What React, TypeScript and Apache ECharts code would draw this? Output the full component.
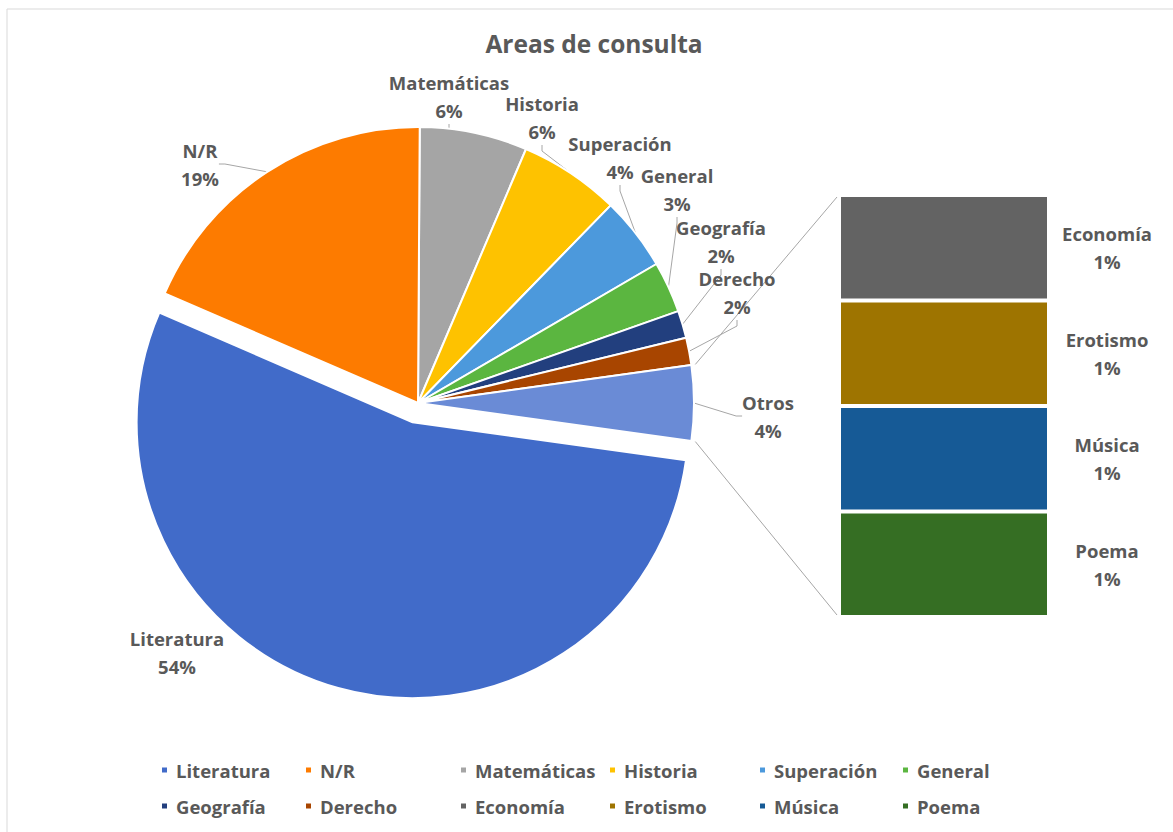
import React, { useEffect, useRef } from "react";
import * as echarts from "echarts";

// ---- data ----
const titleText = "Areas de consulta";
const categories = ["Literatura", "N/R", "Matemáticas", "Historia", "Superación", "General", "Geografía", "Derecho"];
const values = [54.3, 18.6, 6.3, 5.9, 4.3, 3.0, 1.6, 1.6];
const categoryColors = ["#416bc9", "#fd7b00", "#a5a5a5", "#fec200", "#4c99dc", "#5bb640", "#223f7e", "#a84500"];
const otherLabel = "Otros";
const otherColor = "#6a8bd6";
const otherNames = ["Economía", "Erotismo", "Música", "Poema"];
const otherValues = [1.1, 1.1, 1.1, 1.1];
const otherColors = ["#636363", "#9e7400", "#165a96", "#356e23"];
// clockwise order of slices starting at 12 o'clock
const sliceOrder = ["Matemáticas", "Historia", "Superación", "General", "Geografía", "Derecho", "Otros", "Literatura", "N/R"];
const explodedSlice = "Literatura";
const legendRows = [
  ["Literatura", "N/R", "Matemáticas", "Historia", "Superación", "General"],
  ["Geografía", "Derecho", "Economía", "Erotismo", "Música", "Poema"],
];

// ---- layout ----
const W = 1173;
const H = 832;
const FONT = "'Open Sans', Lato, sans-serif";
const TEXT = "#595959";
const FS = 18.5;
const PIE_C = [418, 403];
const PIE_R = 276;
const EXPLODE = 20;
const GRID = { left: 839, top: 195, width: 210, height: 422 };
const LEGEND_X = [160, 304, 459, 608, 758, 901];
const LEGEND_Y = [759, 795];
// label block centres, relative to the pie centre (Excel-style placement)
const LABEL_OFFSET: Record<string, number[]> = {
  Literatura: [-241, 249],
  "N/R": [-218, -239],
  Matemáticas: [31, -307],
  Historia: [124, -286],
  Superación: [202, -246],
  General: [259, -214],
  Geografía: [303, -162],
  Derecho: [319, -111],
  Otros: [350, 13],
};
const NO_LINE = ["Literatura"];

export default function App() {
  const ref = useRef<HTMLDivElement>(null);
  useEffect(() => {
    if (!ref.current) return;
    const chart = echarts.init(ref.current, null, { renderer: "svg" });
    const otherTotal = otherValues.reduce((a, b) => a + b, 0);
    const total = values.reduce((a, b) => a + b, 0) + otherTotal;
    const valOf = (n: string) => (n === otherLabel ? otherTotal : values[categories.indexOf(n)]);
    const colorOf = (n: string) => (n === otherLabel ? otherColor : categoryColors[categories.indexOf(n)]);
    const cumBefore = (n: string) => sliceOrder.slice(0, sliceOrder.indexOf(n)).reduce((a, m) => a + valOf(m), 0);
    const startAngle = ((cumBefore(otherLabel) + otherTotal / 2) / total) * 360;
    const deg = Math.PI / 180;
    const aTop = ((otherTotal / 2) / total) * 360 * deg;
    const rr = PIE_R + 4;
    const p1 = [PIE_C[0] + rr * Math.cos(aTop), PIE_C[1] - rr * Math.sin(aTop)];
    const p2 = [PIE_C[0] + rr * Math.cos(aTop), PIE_C[1] + rr * Math.sin(aTop)];
    // exploded slice centre
    const midEx = (startAngle - ((cumBefore(explodedSlice) + valOf(explodedSlice) / 2) / total) * 360) * deg;
    const exC = [PIE_C[0] + EXPLODE * Math.cos(midEx), PIE_C[1] - EXPLODE * Math.sin(midEx)];

    const placeholder = (n: string) => ({
      name: "",
      value: valOf(n),
      itemStyle: { color: "rgba(0,0,0,0)", borderWidth: 0 },
      label: { show: false },
      labelLine: { show: false },
    });
    const realItem = (n: string) => ({
      name: n,
      value: valOf(n),
      itemStyle: { color: colorOf(n) },
      labelLine: { show: NO_LINE.indexOf(n) < 0 },
    });

    const legends: any[] = [];
    legendRows.forEach((row, ri) =>
      row.forEach((name, ci) => {
        legends.push({
          data: [name],
          left: LEGEND_X[ci],
          top: LEGEND_Y[ri],
          padding: 0,
          icon: "rect",
          itemWidth: 7,
          itemHeight: 7,
          itemGap: 0,
          selectedMode: false,
          textStyle: { fontFamily: FONT, fontSize: FS, lineHeight: 22, color: TEXT, fontWeight: "bold", padding: [0, 0, 0, 3] },
        });
      })
    );

    const pieLabel = {
      show: true,
      position: "outside",
      fontFamily: FONT,
      fontSize: FS,
      fontWeight: "bold",
      color: TEXT,
      lineHeight: 28,
      formatter: (p: any) => `{n|${p.name}}\n{n|${Math.round(p.percent)}%}`,
      rich: { n: { align: "center", fontFamily: FONT, fontSize: FS, fontWeight: "bold", color: TEXT, lineHeight: 28 } },
    };
    const pieLayout = (params: any) => {
      const off = LABEL_OFFSET[sliceOrder[params.dataIndex]];
      if (!off) return {};
      return { x: PIE_C[0] + off[0], y: PIE_C[1] + off[1], align: "center", verticalAlign: "middle" };
    };
    const pieCommon = {
      type: "pie",
      radius: PIE_R,
      startAngle,
      clockwise: true,
      avoidLabelOverlap: false,
      selectedMode: false,
      itemStyle: { borderColor: "#ffffff", borderWidth: 2 },
      emphasis: { disabled: true },
      label: pieLabel,
      labelLine: { show: true, length: 8, length2: 6, lineStyle: { color: "#a6a6a6", width: 1 } },
      labelLayout: pieLayout,
    };

    const option: any = {
      animation: false,
      backgroundColor: "#ffffff",
      title: {
        text: titleText,
        left: 594,
        textAlign: "center",
        top: 27,
        padding: 0,
        textStyle: { fontFamily: FONT, fontSize: 24.5, fontWeight: "bold", color: TEXT, lineHeight: 32 },
      },
      legend: legends,
      grid: { left: GRID.left, top: GRID.top, width: GRID.width, height: GRID.height },
      xAxis: { type: "category", data: [""], show: false },
      yAxis: { type: "value", min: 0, max: otherTotal, inverse: true, show: false },
      series: [
        {
          ...pieCommon,
          center: PIE_C,
          data: sliceOrder.map((n) => (n === explodedSlice ? placeholder(n) : realItem(n))),
        },
        {
          ...pieCommon,
          center: exC,
          data: sliceOrder.map((n) => (n === explodedSlice ? realItem(n) : placeholder(n))),
        },
        ...otherNames.map((n, i) => ({
          type: "bar",
          name: n,
          stack: "otros",
          barWidth: "100%",
          data: [otherValues[i]],
          itemStyle: { color: otherColors[i], borderColor: "#ffffff", borderWidth: 2 },
          emphasis: { disabled: true },
          label: {
            show: true,
            position: "right",
            distance: 58,
            align: "center",
            fontFamily: FONT,
            fontSize: FS,
            fontWeight: "bold",
            color: TEXT,
            lineHeight: 28,
            formatter: (p: any) => `${p.seriesName}\n${Math.round((p.value / total) * 100)}%`,
          },
        })),
      ],
      graphic: [
        { type: "rect", shape: { x: 7, y: 9, width: W, height: H }, style: { fill: "none", stroke: "#d9d9d9", lineWidth: 1 }, z: -1 },
        { type: "line", shape: { x1: p1[0], y1: p1[1], x2: GRID.left - 2, y2: GRID.top + 2 }, style: { stroke: "#a6a6a6", lineWidth: 1 } },
        { type: "line", shape: { x1: p2[0], y1: p2[1], x2: GRID.left - 2, y2: GRID.top + GRID.height - 2 }, style: { stroke: "#a6a6a6", lineWidth: 1 } },
      ],
    };
    chart.setOption(option);
    return () => chart.dispose();
  }, []);
  return <div ref={ref} style={{ position: "fixed", left: 0, top: 0, width: W, height: H }} />;
}
